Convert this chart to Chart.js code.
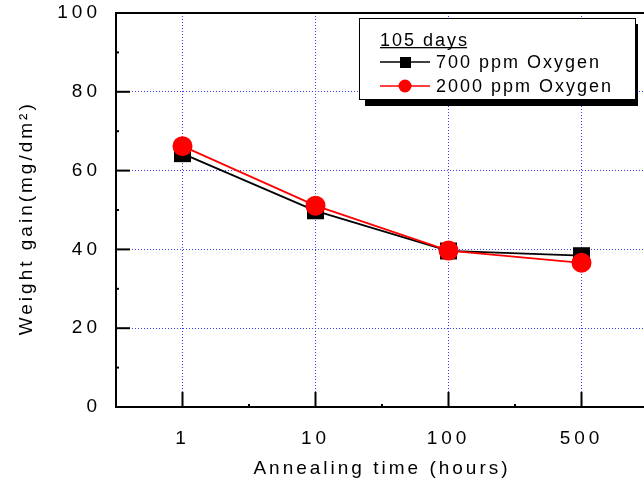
<!DOCTYPE html>
<html><head><meta charset="utf-8">
<script src="https://cdn.jsdelivr.net/npm/chart.js@4/dist/chart.umd.min.js"></script>
<style>html,body{margin:0;padding:0;background:#fff;overflow:hidden}
#wrap{width:650px;height:488px}</style></head>
<body><div id="wrap"><canvas id="c" width="650" height="488"></canvas></div>
<script>
const categories = ['1', '10', '100', '500'];
const oxygen700 = [64.3, 49.8, 39.6, 38.4];
const oxygen2000 = [66.2, 51.1, 39.7, 36.6];
const yMin = 0, yMax = 100, yStep = 20;
const legendTitle = '105 days';
const seriesNames = ['700 ppm Oxygen', '2000 ppm Oxygen'];
const xTitle = 'Annealing time (hours)';
const yTitle = 'Weight gain(mg/dm\u00B2)  ';

const FONT = "'Liberation Sans', Arial, Helvetica, sans-serif";

// letter spacing for axis text
const SP = Chart.Scale.prototype;
const oLabels = SP.drawLabels, oTitle = SP.drawTitle;
SP.drawLabels = function (a) { const c = this.ctx; c.save(); c.letterSpacing = '4px'; oLabels.call(this, a); c.restore(); };
SP.drawTitle = function () { const c = this.ctx; c.save(); c.letterSpacing = '3px'; oTitle.call(this); c.restore(); };

function seg(ctx, x1, y1, x2, y2) { ctx.beginPath(); ctx.moveTo(x1, y1); ctx.lineTo(x2, y2); ctx.stroke(); }
function noPad(s) { s.paddingTop = 0; s.paddingBottom = 0; s.paddingLeft = 0; s.paddingRight = 0; }

const frame = {
  id: 'frame',
  beforeDatasetsDraw(chart) {
    const { ctx, chartArea: a, scales: { x, y } } = chart;
    ctx.save();
    ctx.strokeStyle = '#000'; ctx.lineWidth = 2; ctx.setLineDash([]);
    seg(ctx, a.left - 1, a.top, a.right + 1, a.top);
    y.ticks.forEach(t => { const py = y.getPixelForValue(t.value); seg(ctx, a.left, py, a.left + 14, py); });
    for (let v = yMin + yStep / 2; v < yMax; v += yStep) { const py = y.getPixelForValue(v); seg(ctx, a.left, py, a.left + 3, py); }
    categories.forEach((c, i) => {
      const px = x.getPixelForValue(i); seg(ctx, px, a.bottom, px, a.bottom - 15);
      if (i < categories.length - 1) {
        const pm = (px + x.getPixelForValue(i + 1)) / 2; seg(ctx, pm, a.bottom, pm, a.bottom - 3);
      }
    });
    ctx.restore();
  }
};

const legendBox = {
  id: 'legendBox',
  afterDraw(chart) {
    const ctx = chart.ctx;
    const L = 359, T = 18, R = 635, B = 99;
    ctx.save();
    ctx.fillStyle = '#000'; ctx.fillRect(L + 6, T + 6, R - L - 3, B - T + 1);
    ctx.fillStyle = '#fff'; ctx.fillRect(L, T, R - L, B - T);
    ctx.strokeStyle = '#000'; ctx.lineWidth = 1; ctx.strokeRect(L + 0.5, T + 0.5, R - L, B - T);
    ctx.letterSpacing = '2px';
    ctx.font = '18px ' + FONT; ctx.fillStyle = '#000';
    ctx.textBaseline = 'alphabetic'; ctx.textAlign = 'left';
    ctx.fillText(legendTitle, 380, 46);
    const w = ctx.measureText(legendTitle).width - 2;
    ctx.fillRect(380, 47, w, 1.3);
    const ds = chart.data.datasets;
    const rows = [{ d: ds[1], y: 62 }, { d: ds[0], y: 86 }];
    rows.forEach(r => {
      ctx.strokeStyle = r.d.borderColor; ctx.lineWidth = 1.5;
      seg(ctx, 380, r.y, 430, r.y);
      ctx.fillStyle = r.d.backgroundColor;
      if (r.d.pointStyle === 'rect') ctx.fillRect(400, r.y - 5, 11, 11);
      else { ctx.beginPath(); ctx.arc(405, r.y, 6.5, 0, Math.PI * 2); ctx.fill(); }
      ctx.fillStyle = '#000'; ctx.textBaseline = 'middle';
      ctx.fillText(r.d.label, 436, r.y + 1);
    });
    ctx.restore();
  }
};

new Chart(document.getElementById('c'), {
  type: 'line',
  data: {
    labels: categories,
    datasets: [
      { label: seriesNames[1], data: oxygen2000, borderColor: '#ff0000', backgroundColor: '#ff0000',
        borderWidth: 1.8, pointStyle: 'circle', pointRadius: 10, pointBorderWidth: 0, order: 0, tension: 0 },
      { label: seriesNames[0], data: oxygen700, borderColor: '#000000', backgroundColor: '#000000',
        borderWidth: 1.8, pointStyle: 'rect', pointRadius: 12, pointBorderWidth: 0, order: 1, tension: 0 }
    ]
  },
  options: {
    responsive: false, animation: false, devicePixelRatio: 1,
    layout: { autoPadding: false, padding: { top: 13, right: 2, left: 0, bottom: 0 } },
    plugins: { legend: { display: false }, tooltip: { enabled: false } },
    scales: {
      x: {
        type: 'category', offset: true,
        grid: { offset: false, color: '#3a3aff', lineWidth: 1, drawTicks: false },
        border: { display: true, color: '#000', width: 2, dash: [1, 2] },
        ticks: { color: '#000', font: { family: FONT, size: 19 }, padding: 20 },
        title: { display: true, text: xTitle, color: '#000', font: { family: FONT, size: 19 }, padding: { top: 0, bottom: 8 } },
        afterFit(s) { s.height = 81; noPad(s); }
      },
      y: {
        min: yMin, max: yMax,
        grid: { color: '#3a3aff', lineWidth: 1, drawTicks: false },
        border: { display: true, color: '#000', width: 2, dash: [1, 2] },
        ticks: { stepSize: yStep, color: '#000', font: { family: FONT, size: 19 }, padding: 15 },
        title: { display: true, text: yTitle, color: '#000', font: { family: FONT, size: 19 }, padding: { top: 15, bottom: 0 } },
        afterFit(s) { s.width = 116; noPad(s); }
      }
    }
  },
  plugins: [frame, legendBox]
});
</script>
</body></html>
